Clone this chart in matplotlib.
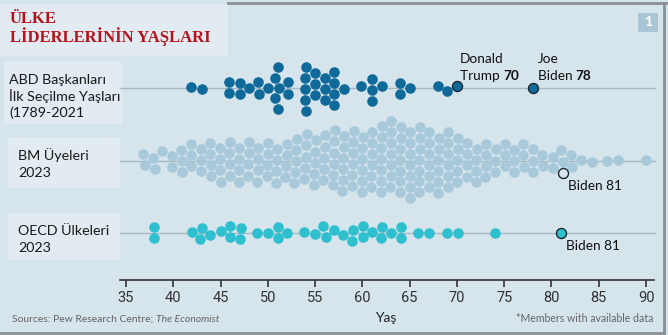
import numpy as np
import matplotlib
matplotlib.use('Agg')
from matplotlib import pyplot as plt
from matplotlib.patches import Rectangle
from matplotlib.lines import Line2D

# ages of US presidents at first election (Trump and Biden kept apart)
us_ages = [57, 61, 57, 57, 58, 57, 61, 54, 68, 51, 49, 64, 50, 48, 65, 52, 56, 46,
           54, 49, 51, 47, 55, 54, 42, 51, 56, 55, 51, 54, 51, 60, 62, 43, 55, 56,
           61, 52, 69, 64, 46, 54, 47]
trump_age = 70
biden_age_us = 78

# UN members 2023: leader age and how many leaders have it
bm_age_values = [37, 38, 39, 40, 41, 42, 43, 44, 45, 46, 47, 48, 49, 50, 51, 52, 53,
                 54, 55, 56, 57, 58, 59, 60, 61, 62, 63, 64, 65, 66, 67, 68, 69, 70,
                 71, 72, 73, 74, 75, 76, 77, 78, 79, 80, 81, 82, 83, 84, 86, 87, 90]
bm_age_counts = [2, 2, 1, 2, 3, 3, 3, 4, 4, 4, 4, 4, 4, 4, 4, 4, 5,
                 5, 5, 5, 6, 6, 6, 6, 6, 7, 7, 7, 7, 7, 6, 6, 6, 5,
                 4, 4, 4, 3, 3, 3, 3, 3, 2, 2, 2, 2, 1, 1, 1, 1, 1]
biden_age = 81

# OECD countries 2023
oecd_ages = [38, 38, 42, 43, 43, 44, 45, 46, 46, 47, 47, 49, 50, 51, 51, 52, 54, 55,
             56, 56, 57, 58, 59, 59, 60, 60, 61, 62, 62, 63, 64, 64, 66, 67, 69, 70, 74]

ticks = [35, 40, 45, 50, 55, 60, 65, 70, 75, 80, 85, 90]

W, H = 668, 335
PX = 520 / 55.0   # pixels per year
D = 11.0          # spacing between dot centres, pixels
BG = '#d6e4ec'
PANEL = '#e1ebf1'
US_C = '#0f6a9a'
BM_C = '#a7c9da'
OECD_C = '#2fc0d0'


def collide(x, y, passes, k=0.3):
    for _ in range(passes):
        dx = x[:, None] - x[None, :]
        dy = y[:, None] - y[None, :]
        d = np.hypot(dx, dy)
        np.fill_diagonal(d, np.inf)
        f = np.clip(D - d, 0, None) / np.maximum(d, 1e-6) * k
        x += (dx * f).sum(1)
        y += (dy * f).sum(1)


def beeswarm(ages, n_iter=900, kx=0.025, ky=0.008, last_y=None):
    tx = (np.asarray(ages, float) - 35) * PX
    n = len(tx)
    # small fixed offsets only to break the symmetry of the layout
    idx = np.arange(n)
    jx = ((idx * 0.618034) % 1 - 0.5) * 6.0
    jy = ((idx * 0.754878) % 1 - 0.5) * 2.0
    x = tx + jx
    y = np.zeros(n)
    seen = {}
    for i in np.argsort(tx, kind='stable'):
        k = seen.get(tx[i], 0)
        seen[tx[i]] = k + 1
        y[i] = ((k + 1) // 2) * (1 if k % 2 else -1) * D * 0.8 + jy[i]
    if last_y is not None:
        y[-1] = last_y
    for _ in range(n_iter):
        x += kx * (tx - x)
        y -= ky * y
        collide(x, y, 2)
    collide(x, y, 40)
    return 35 + x / PX, y


def fx(px):
    return px / W


def fy(py):
    return 1 - py / H


fig = plt.figure(figsize=(W / 100, H / 100), dpi=100)
fig.patch.set_facecolor(BG)

# lighter panels behind the titles
for x0, y0, w, h in [(0, 4, 228, 52), (4, 62, 118, 62), (8, 138, 112, 50), (8, 214, 112, 46)]:
    fig.add_artist(Rectangle((fx(x0), fy(y0 + h)), w / W, h / H, transform=fig.transFigure,
                             facecolor=PANEL, edgecolor='none', zorder=0))

ax = fig.add_axes([fx(120.3), fy(280), (654 - 120.3) / W, 240 / H])
ax.set_facecolor('none')
ax.set_xlim(35 - 5.7 / PX, 90 + 8 / PX)
ax.set_ylim(280, 40)

rows = [88, 160.5, 232.7]
for yl in rows:
    ax.plot([34.4, 90.9], [yl, yl], color='#a9b9c3', lw=1, zorder=1, clip_on=False)

# US presidents
us_all = us_ages + [trump_age, biden_age_us]
sx, sy = beeswarm(us_all, kx=0.06)
n = len(us_ages)
ax.scatter(sx[:n], rows[0] + sy[:n], s=58, color=US_C, linewidths=0, zorder=3)
ax.scatter(sx[n:], rows[0] + sy[n:], s=52, color=US_C, edgecolors='#1c2730',
           linewidths=1.0, zorder=4)

# UN members
bm_all = list(np.repeat(bm_age_values, bm_age_counts)) + [biden_age]
bx, by = beeswarm(bm_all, last_y=D)
ax.scatter(bx[:-1], rows[1] + by[:-1], s=58, color=BM_C, linewidths=0, zorder=3)
ax.scatter(bx[-1:], rows[1] + by[-1:], s=52, color=BG, edgecolors='#1c2730',
           linewidths=1.0, zorder=4)

# OECD
oecd_all = oecd_ages + [biden_age]
ox, oy = beeswarm(oecd_all)
ax.scatter(ox[:-1], rows[2] + oy[:-1], s=58, color=OECD_C, linewidths=0, zorder=3)
ax.scatter(ox[-1:], rows[2] + oy[-1:], s=52, color=OECD_C, edgecolors='#1c2730',
           linewidths=1.0, zorder=4)

for s in ['top', 'right', 'left']:
    ax.spines[s].set_visible(False)
ax.spines['bottom'].set_color('#333333')
ax.spines['bottom'].set_linewidth(1.2)
ax.set_yticks([])
ax.set_xticks(ticks)
ax.tick_params(axis='x', length=5, width=1.2, color='#333333', labelsize=10.5,
               labelcolor='#333333', pad=3)
for lab in ax.get_xticklabels():
    lab.set_fontfamily('Roboto')

# annotations
tf = dict(family='Lato', fontsize=9.8, color='#111111')
ax.text(trump_age + 0.3, 63, 'Donald', **tf)
t = ax.text(trump_age + 0.3, 80, 'Trump ', **tf)
ax.annotate('70', xy=(1, 0), xycoords=t, va='bottom', fontweight='bold', **tf)
ax.text(biden_age_us + 0.55, 63, 'Joe', **tf)
t = ax.text(biden_age_us + 0.55, 80, 'Biden ', **tf)
ax.annotate('78', xy=(1, 0), xycoords=t, va='bottom', fontweight='bold', **tf)
ax.text(bx[-1] + 0.5, rows[1] + by[-1] + 17, 'Biden 81', **tf)
ax.text(ox[-1] + 0.5, rows[2] + oy[-1] + 17, 'Biden 81', **tf)

# titles and labels
fig.text(fx(10), fy(42), 'ÜLKE\nLİDERLERİNİN YAŞLARI', family='Liberation Serif',
         fontweight='bold', fontsize=12, color='#b5121b', linespacing=1.0)
lf = dict(family='Lato', fontsize=10.3, color='#1a1a1a')
fig.text(fx(9), fy(117), 'ABD Başkanları\nİlk Seçilme Yaşları\n(1789-2021', linespacing=1.3, **lf)
fig.text(fx(18), fy(177), 'BM Üyeleri\n2023', linespacing=1.5, **lf)
fig.text(fx(18), fy(252), 'OECD Ülkeleri\n2023', linespacing=1.5, **lf)

fig.text(fx(386), fy(322), 'Yaş', ha='center', family='Lato', fontsize=10, color='#222222')
t = fig.text(fx(12), fy(322), 'Sources: Pew Research Centre; ', family='Lato',
             fontsize=7.5, color='#666666')
ax.annotate('The Economist', xy=(1, 0), xycoords=t, family='Lato', fontsize=7.5,
            color='#666666', style='italic', va='bottom', annotation_clip=False)
fig.text(fx(653), fy(322), '*Members with available data', ha='right', family='Lato',
         fontsize=7.6, color='#666666')

# number box
fig.add_artist(Rectangle((fx(638), fy(32)), 20 / W, 19 / H, transform=fig.transFigure,
                         facecolor='#a8c6d6', edgecolor='none'))
fig.text(fx(648), fy(22.5), '1', ha='center', va='center', family='Lato',
         fontweight='bold', fontsize=10, color='white')

# frame
fr = dict(transform=fig.transFigure, color='#8a8f93', lw=2)
fig.add_artist(Line2D([fx(228), 1], [fy(3), fy(3)], **fr))
fig.add_artist(Line2D([fx(664), fx(664)], [fy(3), fy(333)], **fr))
fig.add_artist(Line2D([0, fx(664)], [fy(333), fy(333)], **fr))

fig.savefig('out.png', dpi=100, facecolor=BG)
